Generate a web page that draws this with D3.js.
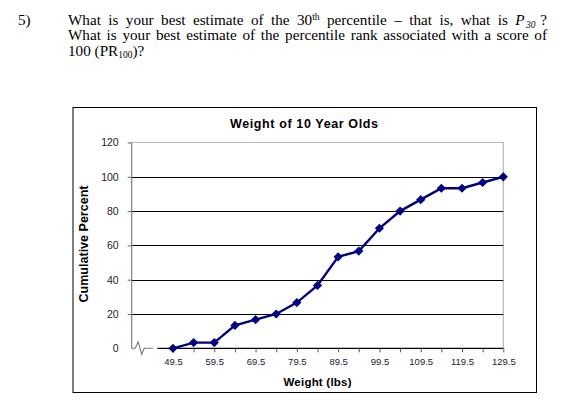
<!DOCTYPE html>
<html><head><meta charset="utf-8">
<script src="https://cdnjs.cloudflare.com/ajax/libs/d3/7.8.5/d3.min.js"></script>
<style>body{margin:0;background:#fff}svg{display:block}</style>
</head><body>
<script>
// ---- data ----
const weights = [49.5,54.5,59.5,64.5,69.5,74.5,79.5,84.5,89.5,94.5,99.5,104.5,109.5,114.5,119.5,124.5,129.5];
const cumPercent = [0,3.33,3.33,13.33,16.67,20,26.67,36.67,53.33,56.67,70,80,86.67,93.33,93.33,96.67,100];
const yTicks = [0,20,40,60,80,100,120];
const xTickLabels = [49.5,59.5,69.5,79.5,89.5,99.5,109.5,119.5,129.5];
const chartTitle = "Weight of 10 Year Olds";
const xTitle = "Weight (lbs)";
const yTitle = "Cumulative Percent";

const W = 575, H = 402;
const svg = d3.select("body").append("svg").attr("width", W).attr("height", H);

// ---- question text ----
const serif = "'Liberation Serif','Times New Roman',serif";
const fs = 15.2;
const q = svg.append("g").attr("font-family", serif).attr("font-size", fs).attr("fill", "#000");
q.append("text").attr("x", 18).attr("y", 24.5).text("5)");

function justify(t, x0, x1) {
  const natural = t.node().getComputedTextLength();
  const nSpaces = (t.node().textContent.match(/ /g) || []).length || 1;
  const extra = Math.max(0, (x1 - x0 - natural) / nSpaces);
  t.attr("word-spacing", extra);
}
const l1 = q.append("text").attr("x", 68).attr("y", 24.5);
l1.append("tspan").text("What is your best estimate of the 30");
l1.append("tspan").attr("font-size", 9.5).attr("dy", -5).text("th");
l1.append("tspan").attr("dy", 5).text(" percentile \u2013 that is, what is ");
l1.append("tspan").attr("font-style", "italic").text("P");
l1.append("tspan").attr("font-style", "italic").attr("font-size", 9.5).attr("dy", 3).attr("dx", 1.5).text("30");
justify(l1, 68, 534);
q.append("text").attr("x", 547).attr("y", 24.5).attr("text-anchor", "end").text("?");

const l2 = q.append("text").attr("x", 68).attr("y", 40)
  .text("What is your best estimate of the percentile rank associated with a score of");
justify(l2, 68, 547);

const l3 = q.append("text").attr("x", 68).attr("y", 55.5);
l3.append("tspan").text("100 (PR");
l3.append("tspan").attr("font-size", 9.5).attr("dy", 2).text("100");
l3.append("tspan").attr("dy", -2).text(")?");

// ---- chart frame ----
svg.append("rect").attr("x", 73).attr("y", 107.5).attr("width", 463.5).attr("height", 285)
  .attr("fill", "#fff").attr("stroke", "#000").attr("stroke-width", 1);

const pLeft = 131.7, pRight = 503.3, pTop = 142.5, pBottom = 348.3;
const x = d3.scaleLinear().domain([39.5, 129.5]).range([pLeft, pRight]);
const y = d3.scaleLinear().domain([0, 120]).range([pBottom, pTop]);

const sans = "Arial, 'Liberation Sans', sans-serif";

// plot border top / right (gray)
svg.append("path")
  .attr("d", `M${pLeft},${y(120)}H${pRight}V${pBottom}`)
  .attr("fill", "none").attr("stroke", "#b8b8b8").attr("stroke-width", 1.2);

// gridlines
svg.append("g").selectAll("line").data(yTicks.filter(d => d > 0 && d < 120)).join("line")
  .attr("x1", pLeft).attr("x2", pRight)
  .attr("y1", d => Math.round(y(d)) + 0.5).attr("y2", d => Math.round(y(d)) + 0.5)
  .attr("stroke", "#000").attr("stroke-width", 1);

// y axis (gray) with break
const yAxis = d3.axisLeft(y).tickValues(yTicks).tickSize(4).tickPadding(9);
const gy = svg.append("g").attr("transform", `translate(${pLeft},0)`).call(yAxis);
gy.select(".domain").remove();
gy.selectAll(".tick line").attr("stroke", "#666");
gy.selectAll(".tick text").attr("font-family", sans).attr("font-size", 10.5).attr("fill", "#222");
gy.selectAll(".tick").filter(d => d === 0).select("line").remove();

svg.append("path")
  .attr("d", `M${pLeft},${y(120)}V${pBottom}H${pLeft + 3.5}L${pLeft + 6.5},${pBottom - 6.5}L${pLeft + 10},${pBottom + 6}L${pLeft + 12.5},${pBottom}H${pLeft + 21.5}`)
  .attr("fill", "none").attr("stroke", "#777").attr("stroke-width", 1.1);

// x axis
svg.append("line").attr("x1", x(44.5) + 5).attr("x2", pRight)
  .attr("y1", pBottom).attr("y2", pBottom).attr("stroke", "#000").attr("stroke-width", 1.2);
const xAxis = d3.axisBottom(x).tickValues(weights).tickSize(4).tickPadding(6)
  .tickFormat(d => xTickLabels.includes(d) ? d3.format(".1f")(d) : "");
const gx = svg.append("g").attr("transform", `translate(0,${pBottom})`).call(xAxis);
gx.select(".domain").remove();
gx.selectAll(".tick line").attr("stroke", "#555");
gx.selectAll(".tick text").attr("font-family", sans).attr("font-size", 9.5).attr("fill", "#1a1a33");

// ---- data line & markers ----
const pts = weights.map((w, i) => [w, cumPercent[i]]);
svg.append("path").datum(pts)
  .attr("d", d3.line().x(d => x(d[0])).y(d => y(d[1])))
  .attr("fill", "none").attr("stroke", "#000080").attr("stroke-width", 2.4);
const r = 4.6;
svg.append("g").selectAll("path").data(pts).join("path")
  .attr("transform", d => `translate(${x(d[0])},${y(d[1])})`)
  .attr("d", `M0,${-r}L${r},0L0,${r}L${-r},0Z`)
  .attr("fill", "#000080");

// ---- titles ----
svg.append("text").attr("x", 304).attr("y", 128.3).attr("text-anchor", "middle")
  .attr("font-family", sans).attr("font-weight", "bold").attr("font-size", 12.5)
  .attr("textLength", 148).attr("lengthAdjust", "spacing").text(chartTitle);
svg.append("text").attr("x", 317.5).attr("y", 386).attr("text-anchor", "middle")
  .attr("font-family", sans).attr("font-weight", "bold").attr("font-size", 11.5)
  .attr("textLength", 68).attr("lengthAdjust", "spacing").text(xTitle);
svg.append("text").attr("transform", "translate(88,244) rotate(-90)").attr("text-anchor", "middle")
  .attr("font-family", sans).attr("font-weight", "bold").attr("font-size", 12)
  .attr("textLength", 117).attr("lengthAdjust", "spacingAndGlyphs").text(yTitle);
</script>
</body></html>
